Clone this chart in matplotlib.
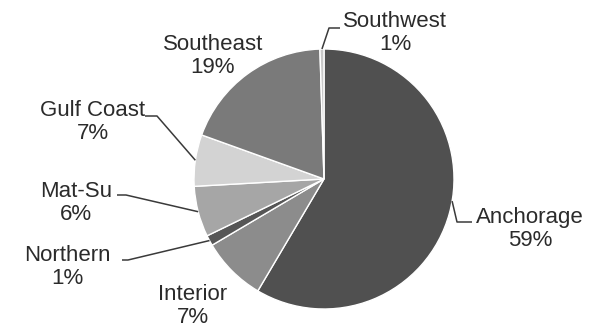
import matplotlib.pyplot as plt
import numpy as np

# regional shares, clockwise from 12 o'clock
regions = ["Anchorage", "Interior", "Northern", "Mat-Su", "Gulf Coast", "Southeast", "Southwest"]
shares = [58.5, 8.0, 1.3, 6.3, 6.4, 19.0, 0.5]
pct_labels = ["59%", "7%", "1%", "6%", "7%", "19%", "1%"]
colors = ["#505050", "#8c8c8c", "#565656", "#a6a6a6", "#d3d3d3", "#7a7a7a", "#c8c8c8"]

W, H = 595, 331
center = (324, H - 179)
radius = 130

# label block centre in pixels (from top-left)
label_xy = {
    "Anchorage": (530, 229),
    "Interior": (193, 306),
    "Northern": (67, 267),
    "Mat-Su": (76, 203),
    "Gulf Coast": (93, 122),
    "Southeast": (213, 56),
    "Southwest": (395, 33),
}
# leader lines: start near text, elbow, then to the wedge edge
leaders = {
    "Anchorage": [(472, 222), (457, 222)],
    "Northern": [(122, 260), (128, 260)],
    "Mat-Su": [(117, 195), (126, 195)],
    "Gulf Coast": [(145, 116), (157, 116)],
    "Southwest": [(340, 28), (329, 28)],
}
# where the leader meets the pie (deg from wedge middle)
leader_shift = {"Anchorage": 5.5}

plt.rcParams['font.family'] = ['Liberation Sans', 'DejaVu Sans']

fig = plt.figure(figsize=(W / 100, H / 100), dpi=100)
ax = fig.add_axes([0, 0, 1, 1])

wedges, _ = ax.pie(shares, colors=colors, startangle=90, counterclock=False,
                   center=center, radius=radius,
                   wedgeprops=dict(edgecolor="white", linewidth=1))

ax.set_xlim(0, W)
ax.set_ylim(0, H)
ax.set_aspect("equal")
ax.axis("off")

for name, pct, w in zip(regions, pct_labels, wedges):
    x, y = label_xy[name]
    ax.text(x, H - y, name + "\n" + pct, ha="center", va="center",
            multialignment="center", fontsize=16, color="#2b2b2b", linespacing=1.12)
    if name in leaders:
        ang = np.deg2rad((w.theta1 + w.theta2) / 2 + leader_shift.get(name, 0))
        ex = center[0] + radius * np.cos(ang)
        ey = center[1] + radius * np.sin(ang)
        pts = leaders[name]
        xs = [p[0] for p in pts] + [ex]
        ys = [H - p[1] for p in pts] + [ey]
        ax.plot(xs, ys, color="#3a3a3a", lw=1.1, solid_capstyle="butt")

fig.savefig("out.png", dpi=100, facecolor="white")
